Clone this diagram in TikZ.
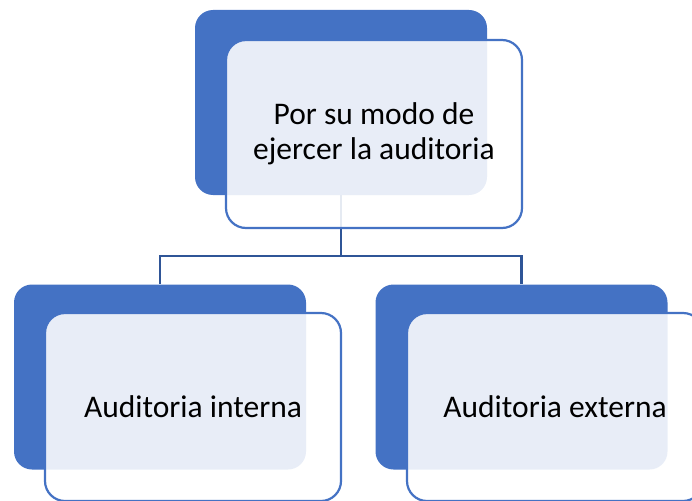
\documentclass[tikz,border=0pt]{standalone}
\usepackage{fontspec}
\setmainfont{Carlito}
\definecolor{accentblue}{HTML}{4472C4}
\definecolor{linkblue}{HTML}{2F5597}
\tikzset{
  backbox/.style={fill=accentblue, rounded corners=18pt, minimum width=292pt, minimum height=185pt, inner sep=0pt},
  frontbox/.style={draw=accentblue, line width=2.2pt, fill=white, fill opacity=0.88, text opacity=1, rounded corners=20pt, minimum width=296pt, minimum height=188pt, inner sep=0pt, align=center, font=\fontsize{31.5}{35}\selectfont},
  link/.style={draw=linkblue, line width=2.5pt}
}
\begin{document}
\begin{tikzpicture}[x=1pt, y=-1pt]
\useasboundingbox (0,0) rectangle (692,500);
\clip (0,0) rectangle (692,500);

% blue back boxes
\node[backbox] (modeback) at (341,102.5) {};
\node[backbox] (internaback) at (160,377) {};
\node[backbox] (externaback) at (521.5,377) {};

% connectors
\coordinate (split) at (341,256);
\draw[link] (modeback.south) -- (split);
\draw[link] (split) -| (internaback.north);
\draw[link] (split) -| (externaback.north);

% front boxes
\node[frontbox] (mode) at (374,134) {Por su modo de\\ejercer la auditoria};
\node[frontbox] (interna) at (193,407) {Auditoria interna};
\node[frontbox] (externa) at (555,407) {Auditoria externa};

\end{tikzpicture}
\end{document}
